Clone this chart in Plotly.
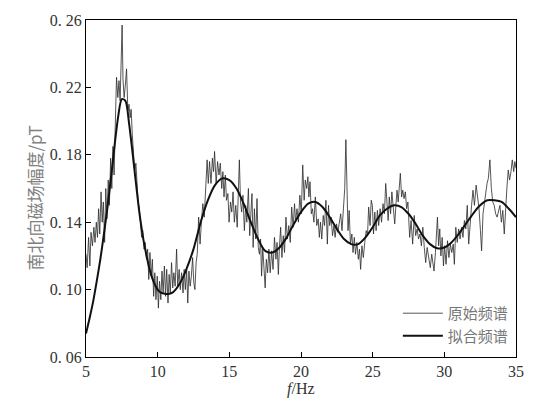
import plotly.graph_objects as go

# Raw spectrum
raw_f = [5.00,5.08,5.18,5.27,5.35,5.45,5.55,5.63,5.72,5.80,5.88,5.96,6.05,6.13,6.21,6.30,6.38,6.46,6.55,6.63,
6.72,6.80,6.88,6.96,7.05,7.13,7.22,7.30,7.38,7.47,7.52,7.58,7.66,7.75,7.83,7.92,8.00,8.08,8.15,8.23,
8.32,8.40,8.48,8.56,8.64,8.72,8.80,8.88,8.96,9.05,9.13,9.22,9.30,9.38,9.46,9.55,9.63,9.72,9.80,9.88,
9.97,10.05,10.13,10.22,10.30,10.38,10.47,10.55,10.63,10.72,10.80,10.88,10.97,11.05,11.13,11.22,11.32,11.40,11.50,11.58,
11.67,11.77,11.85,11.93,12.02,12.10,12.18,12.27,12.35,12.44,12.52,12.60,12.68,12.76,12.86,12.96,13.05,13.15,13.25,13.35,
13.45,13.53,13.62,13.72,13.82,13.90,13.97,14.08,14.18,14.28,14.37,14.47,14.55,14.63,14.72,14.80,14.90,14.98,15.08,15.17,
15.26,15.35,15.45,15.55,15.63,15.70,15.78,15.86,15.95,16.05,16.14,16.22,16.33,16.42,16.50,16.58,16.66,16.75,16.84,16.93,
17.02,17.10,17.18,17.25,17.33,17.42,17.50,17.58,17.67,17.76,17.85,17.95,18.05,18.15,18.25,18.33,18.42,18.50,18.58,18.67,
18.76,18.85,18.95,19.05,19.15,19.25,19.35,19.45,19.55,19.62,19.72,19.82,19.92,20.02,20.12,20.22,20.30,20.40,20.48,20.55,
20.63,20.72,20.80,20.90,21.00,21.10,21.20,21.28,21.36,21.45,21.55,21.64,21.74,21.84,21.92,22.00,22.10,22.20,22.30,22.38,
22.48,22.57,22.67,22.77,22.86,22.96,23.05,23.13,23.20,23.28,23.36,23.45,23.55,23.63,23.72,23.80,23.90,24.00,24.08,24.16,
24.25,24.35,24.45,24.55,24.64,24.72,24.82,24.90,24.98,25.06,25.15,25.24,25.33,25.42,25.52,25.62,25.72,25.82,25.91,26.00,
26.08,26.16,26.25,26.34,26.44,26.54,26.62,26.70,26.78,26.85,26.93,27.02,27.10,27.19,27.28,27.37,27.46,27.58,27.68,27.79,
27.90,28.00,28.10,28.20,28.30,28.40,28.50,28.60,28.70,28.80,28.92,29.02,29.12,29.20,29.28,29.38,29.46,29.52,29.60,29.68,
29.76,29.85,29.94,30.02,30.12,30.22,30.32,30.42,30.52,30.62,30.70,30.80,30.90,31.00,31.10,31.20,31.30,31.40,31.50,31.60,
31.70,31.80,31.90,32.00,32.10,32.22,32.32,32.42,32.52,32.60,32.70,32.80,32.88,32.98,33.07,33.18,33.28,33.38,33.48,33.58,
33.68,33.78,33.88,33.98,34.08,34.18,34.28,34.37,34.46,34.55,34.65,34.74,34.84,34.92,35.00]

raw_amp = [0.121,0.113,0.131,0.114,0.134,0.126,0.137,0.128,0.140,0.131,0.148,0.133,0.158,0.140,0.152,0.128,0.160,0.142,0.165,0.150,
0.178,0.160,0.185,0.168,0.200,0.226,0.214,0.224,0.212,0.236,0.257,0.225,0.214,0.222,0.231,0.206,0.210,0.202,0.207,0.192,
0.176,0.170,0.175,0.160,0.152,0.148,0.138,0.131,0.135,0.124,0.128,0.118,0.124,0.106,0.122,0.108,0.118,0.096,0.110,0.094,
0.108,0.089,0.105,0.094,0.111,0.098,0.114,0.096,0.112,0.092,0.109,0.098,0.116,0.101,0.110,0.102,0.124,0.102,0.112,0.100,
0.110,0.098,0.112,0.100,0.112,0.092,0.111,0.102,0.108,0.119,0.104,0.100,0.116,0.121,0.143,0.127,0.140,0.151,0.143,0.160,
0.177,0.163,0.176,0.163,0.178,0.170,0.182,0.163,0.176,0.168,0.175,0.160,0.170,0.155,0.168,0.153,0.157,0.140,0.152,0.146,
0.158,0.140,0.150,0.137,0.160,0.177,0.152,0.146,0.156,0.135,0.150,0.140,0.160,0.132,0.145,0.157,0.125,0.148,0.130,0.154,
0.125,0.121,0.130,0.108,0.125,0.115,0.101,0.118,0.110,0.124,0.110,0.123,0.112,0.131,0.118,0.128,0.109,0.126,0.137,0.119,
0.132,0.122,0.143,0.130,0.138,0.128,0.149,0.137,0.151,0.140,0.148,0.140,0.156,0.145,0.174,0.153,0.165,0.160,0.167,0.155,
0.164,0.145,0.148,0.140,0.155,0.138,0.142,0.131,0.140,0.130,0.144,0.138,0.153,0.127,0.150,0.138,0.143,0.132,0.138,0.131,
0.139,0.134,0.141,0.145,0.135,0.146,0.160,0.189,0.160,0.135,0.147,0.127,0.133,0.122,0.131,0.121,0.128,0.118,0.124,0.112,
0.126,0.119,0.128,0.135,0.132,0.149,0.138,0.153,0.150,0.133,0.146,0.135,0.147,0.138,0.148,0.140,0.151,0.145,0.163,0.148,
0.141,0.155,0.145,0.158,0.148,0.139,0.150,0.159,0.152,0.163,0.169,0.155,0.159,0.154,0.158,0.148,0.152,0.131,0.141,0.127,
0.144,0.132,0.136,0.130,0.133,0.126,0.137,0.125,0.116,0.125,0.118,0.113,0.121,0.114,0.111,0.122,0.133,0.143,0.126,0.136,
0.120,0.131,0.114,0.126,0.115,0.129,0.119,0.127,0.122,0.127,0.115,0.137,0.128,0.136,0.130,0.137,0.131,0.141,0.136,0.150,
0.127,0.141,0.150,0.159,0.150,0.162,0.155,0.148,0.135,0.123,0.145,0.152,0.158,0.163,0.166,0.177,0.160,0.152,0.150,0.145,
0.143,0.146,0.150,0.140,0.147,0.133,0.150,0.161,0.171,0.165,0.170,0.177,0.170,0.176,0.172]

# Fitted spectrum
fit_f = [5.0,5.25,5.5,5.75,6.0,6.25,6.5,6.75,7.0,7.25,7.5,7.75,8.0,8.25,8.5,8.75,9.0,9.25,9.5,9.75,
10.0,10.25,10.5,10.75,11.0,11.25,11.5,11.75,12.0,12.5,13.0,13.5,14.0,14.5,15.0,15.5,16.0,16.5,17.0,17.5,
18.0,18.5,19.0,19.5,20.0,20.5,21.0,21.5,22.0,22.5,23.0,23.5,24.0,24.5,25.0,25.5,26.0,26.5,27.0,27.5,
28.0,28.5,29.0,29.5,30.0,30.5,31.0,31.5,32.0,32.5,33.0,33.5,34.0,34.5,35.0]
fit_amp = [0.074,0.083,0.093,0.105,0.118,0.133,0.149,0.167,0.186,0.203,0.213,0.212,0.199,0.181,0.162,0.144,0.130,0.119,0.110,0.104,
0.100,0.098,0.0975,0.0974,0.098,0.100,0.103,0.107,0.112,0.124,0.140,0.153,0.162,0.166,0.165,0.160,0.151,0.140,0.130,0.123,
0.122,0.125,0.131,0.139,0.146,0.151,0.152,0.149,0.143,0.136,0.130,0.127,0.127,0.131,0.137,0.144,0.148,0.150,0.149,0.145,
0.139,0.132,0.127,0.1245,0.125,0.128,0.133,0.139,0.145,0.150,0.153,0.153,0.152,0.148,0.143]

y_ticks = [0.06, 0.10, 0.14, 0.18, 0.22, 0.26]
y_ticktext = ["0. 06", "0. 10", "0. 14", "0. 18", "0. 22", "0. 26"]
x_ticks = [5, 10, 15, 20, 25, 30, 35]
series_names = ["原始频谱", "拟合频谱"]

fig = go.Figure()
fig.add_trace(go.Scatter(x=raw_f, y=raw_amp, mode="lines", name=series_names[0],
                         line=dict(color="#2a2a2a", width=0.8)))
fig.add_trace(go.Scatter(x=fit_f, y=fit_amp, mode="lines", name=series_names[1],
                         line=dict(color="#111111", width=2, shape="spline", smoothing=0.8)))

serif = "Liberation Serif"
fig.update_layout(
    width=551, height=400,
    margin=dict(l=86, r=35, t=20, b=43, autoexpand=False),
    paper_bgcolor="white", plot_bgcolor="white",
    showlegend=True,
    legend=dict(x=0.995, y=0.015, xanchor="right", yanchor="bottom",
                bgcolor="rgba(0,0,0,0)", font=dict(family="Noto Sans CJK SC", size=15, color="#777777"),
                tracegroupgap=0, itemwidth=40),
    xaxis=dict(range=[5, 35], tickvals=x_ticks, ticks="inside", ticklen=5, tickcolor="black",
               showline=True, linecolor="black", linewidth=1, mirror=True, showgrid=False, zeroline=False,
               automargin=False,
               tickfont=dict(family=serif, size=16, color="#333333")),
    yaxis=dict(range=[0.06, 0.26], tickvals=y_ticks, ticktext=y_ticktext, ticks="inside", ticklen=5,
               tickcolor="black", showline=True, linecolor="black", linewidth=1, mirror=True,
               showgrid=False, zeroline=False, automargin=False,
               tickfont=dict(family=serif, size=16, color="#333333")),
    annotations=[
        dict(text="南北向磁场幅度/pT", xref="paper", yref="paper", x=-0.1186, y=0.47,
             textangle=-90, showarrow=False, xanchor="center", yanchor="middle",
             font=dict(family="Noto Sans CJK SC", size=17, color="#808080")),
        dict(text="<i>f</i>/Hz", xref="paper", yref="paper", x=0.5, y=-0.094,
             showarrow=False, xanchor="center", yanchor="middle",
             font=dict(family=serif, size=16, color="#333333")),
    ],
)
fig.write_html("out.html", config={"displayModeBar": False},
               post_script="document.body.style.margin='0px';document.body.style.overflow='hidden';")
